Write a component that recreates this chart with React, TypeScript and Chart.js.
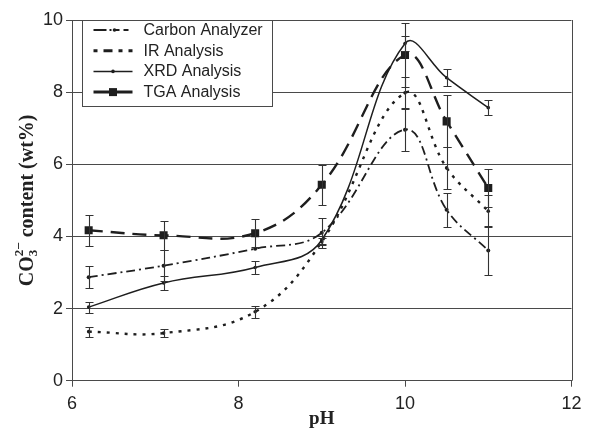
import React, { useEffect, useRef } from "react";
import { Chart, registerables } from "chart.js";

Chart.register(...registerables);

// ---- data ----
const pH = [6.2, 7.1, 8.2, 9, 10, 10.5, 11];
const carbon = [2.87, 3.19, 3.66, 4.1, 6.96, 4.74, 3.61];
const carbonErr = [0.3, 0.43, 0, 0.42, 0.6, 0.47, 0.67];
const ir = [1.36, 1.32, 1.91, 3.85, 7.98, 5.9, 4.7];
const irErr = [0.14, 0.11, 0.17, 0.1, 0.45, 0.58, 0.45];
const xrd = [2.04, 2.71, 3.14, 3.9, 9.35, 8.4, 7.57];
const xrdErr = [0.15, 0.19, 0.18, 0.1, 0.2, 0.23, 0.2];
const tga = [4.17, 4.03, 4.09, 5.43, 9.03, 7.19, 5.34];
const tgaErr = [0.43, 0.4, 0.38, 0.55, 0.9, 0.72, 0.53];
const xTicks = [6, 8, 10, 12];
const yTicks = [0, 2, 4, 6, 8, 10];
const seriesNames = ["Carbon Analyzer", "IR Analysis", "XRD Analysis", "TGA Analysis"];
const xTitle = "pH";

const INK = "#1e1e1e";
const GRID = "#4a4a4a";

const seriesStyle = [
  { dash: [9, 4, 2, 4], width: 1.8, point: "circle", radius: 2, legendDash: [13, 3, 2, 3, 5, 4, 5, 4], legendWidth: 2.2 },
  { dash: [3, 6], width: 2.4, point: "circle", radius: 1.8, legendDash: [4, 6, 9, 6, 4, 6, 4, 6], legendWidth: 3 },
  { dash: [], width: 1.5, point: "circle", radius: 1.8, legendDash: [], legendWidth: 1.5 },
  { dash: [14, 8], width: 2.4, point: "rect", radius: 5.7, legendDash: [], legendWidth: 3 },
];

const seriesValues = [carbon, ir, xrd, tga];
const seriesErrors = [carbonErr, irErr, xrdErr, tgaErr];

const extrasPlugin = {
  id: "extras",
  afterDatasetsDraw(chart: any) {
    const { ctx, chartArea: a, scales } = chart;
    const x = scales.x;
    const y = scales.y;
    ctx.save();
    // right frame border
    ctx.strokeStyle = GRID;
    ctx.lineWidth = 1;
    ctx.setLineDash([]);
    const rx = Math.round(a.right) + 0.5;
    ctx.beginPath();
    ctx.moveTo(rx, a.top);
    ctx.lineTo(rx, a.bottom);
    ctx.stroke();

    // error bars
    ctx.strokeStyle = "#333";
    ctx.lineWidth = 1.1;
    seriesValues.forEach((vals, s) => {
      const errs = seriesErrors[s];
      vals.forEach((v, i) => {
        const e = errs[i];
        if (!e) return;
        const px = Math.round(x.getPixelForValue(pH[i])) + 0.5;
        const y1 = Math.round(y.getPixelForValue(v + e)) + 0.5;
        const y2 = Math.round(y.getPixelForValue(v - e)) + 0.5;
        ctx.beginPath();
        ctx.moveTo(px, y1);
        ctx.lineTo(px, y2);
        ctx.moveTo(px - 4, y1);
        ctx.lineTo(px + 4, y1);
        ctx.moveTo(px - 4, y2);
        ctx.lineTo(px + 4, y2);
        ctx.stroke();
      });
    });

    // legend box
    const bx = Math.round(a.left + 10) + 0.5;
    const by = Math.round(a.top) + 0.5;
    const bw = 190;
    const bh = 86;
    ctx.fillStyle = "#fff";
    ctx.fillRect(bx, by, bw, bh);
    ctx.strokeStyle = GRID;
    ctx.lineWidth = 1;
    ctx.strokeRect(bx, by, bw, bh);
    ctx.font = '16px "Liberation Sans", Arial, sans-serif';
    ctx.textBaseline = "middle";
    ctx.textAlign = "left";
    seriesNames.forEach((name, i) => {
      const st = seriesStyle[i];
      const ry = by + 9.5 + i * 20.7;
      const x0 = bx + 11;
      const x1 = bx + 50;
      ctx.strokeStyle = INK;
      ctx.lineWidth = st.legendWidth;
      ctx.setLineDash(st.legendDash);
      ctx.beginPath();
      ctx.moveTo(x0, ry);
      ctx.lineTo(x1, ry);
      ctx.stroke();
      ctx.setLineDash([]);
      ctx.fillStyle = INK;
      const mx = (x0 + x1) / 2;
      if (st.point === "rect") {
        ctx.fillRect(mx - 4, ry - 4, 8, 8);
      } else if (i === 2 || i === 0) {
        ctx.beginPath();
        ctx.arc(i === 0 ? x0 + 21 : mx, ry, 1.8, 0, Math.PI * 2);
        ctx.fill();
      }
      ctx.fillStyle = "#222";
      ctx.fillText(name, bx + 61, ry + 0.5);
    });
    ctx.restore();
  },
  afterDraw(chart: any) {
    const { ctx, chartArea: a } = chart;
    ctx.save();
    ctx.fillStyle = "#222";
    // x title
    ctx.font = 'bold 19px "Liberation Serif", "Times New Roman", serif';
    ctx.textAlign = "center";
    ctx.textBaseline = "alphabetic";
    ctx.fillText(xTitle, (a.left + a.right) / 2, 424);

    // y title with sub/superscripts
    const big = 'bold 20px "Liberation Serif", "Times New Roman", serif';
    const small = 'bold 13px "Liberation Serif", "Times New Roman", serif';
    ctx.font = big;
    const wCO = ctx.measureText("CO").width;
    const rest = " content (wt%)";
    const wRest = ctx.measureText(rest).width;
    ctx.font = small;
    const w3 = ctx.measureText("3").width;
    const wm = ctx.measureText("\u2212").width;
    const total = wCO + w3 + wm + wRest;
    ctx.translate(33, (a.top + a.bottom) / 2);
    ctx.rotate(-Math.PI / 2);
    ctx.textAlign = "left";
    let cx = -total / 2;
    ctx.font = big;
    ctx.fillText("CO", cx, 0);
    cx += wCO;
    ctx.font = small;
    ctx.fillText("3", cx, 4);
    ctx.fillText("2", cx, -10);
    cx += w3;
    ctx.fillText("\u2212", cx, -10);
    cx += wm;
    ctx.font = big;
    ctx.fillText(rest, cx, 0);
    ctx.restore();
  },
};

export default function App() {
  const ref = useRef<HTMLCanvasElement | null>(null);
  useEffect(() => {
    if (!ref.current) return;
    const datasets = seriesNames.map((name, s) => {
      const st = seriesStyle[s];
      return {
        label: name,
        data: pH.map((p, i) => ({ x: p, y: seriesValues[s][i] })),
        borderColor: INK,
        backgroundColor: INK,
        borderWidth: st.width,
        borderDash: st.dash,
        pointStyle: st.point,
        pointRadius: st.radius,
        pointBorderWidth: 0,
        pointBackgroundColor: INK,
        tension: 0.4,
        fill: false,
      };
    });
    const chart = new Chart(ref.current, {
      type: "line",
      data: { datasets },
      options: {
        animation: false,
        responsive: false,
        layout: { padding: { left: 40, right: 18.5, top: 20, bottom: 6.7 } },
        plugins: { legend: { display: false }, tooltip: { enabled: false } },
        scales: {
          x: {
            type: "linear",
            min: 6,
            max: 12,
            afterBuildTicks: (sc: any) => {
              sc.ticks = xTicks.map((v) => ({ value: v }));
            },
            grid: { drawOnChartArea: false, tickLength: 6, color: GRID, lineWidth: 1 },
            border: { display: true, color: GRID, width: 1 },
            ticks: {
              padding: 7,
              color: "#222",
              font: { family: '"Liberation Sans", Arial, sans-serif', size: 18 },
              maxRotation: 0,
            },
          },
          y: {
            type: "linear",
            min: 0,
            max: 10,
            afterBuildTicks: (sc: any) => {
              sc.ticks = yTicks.map((v) => ({ value: v }));
            },
            grid: { drawOnChartArea: true, tickLength: 6, color: GRID, lineWidth: 1 },
            border: { display: true, color: GRID, width: 1 },
            ticks: {
              padding: 3,
              color: "#222",
              font: { family: '"Liberation Sans", Arial, sans-serif', size: 18 },
            },
          },
        },
      },
      plugins: [extrasPlugin],
    } as any);
    return () => chart.destroy();
  }, []);
  return (
    <div style={{ position: "fixed", left: 0, top: 0, width: 590, height: 429, background: "#fff" }}>
      <canvas ref={ref} width={590} height={429} style={{ display: "block" }} />
    </div>
  );
}
